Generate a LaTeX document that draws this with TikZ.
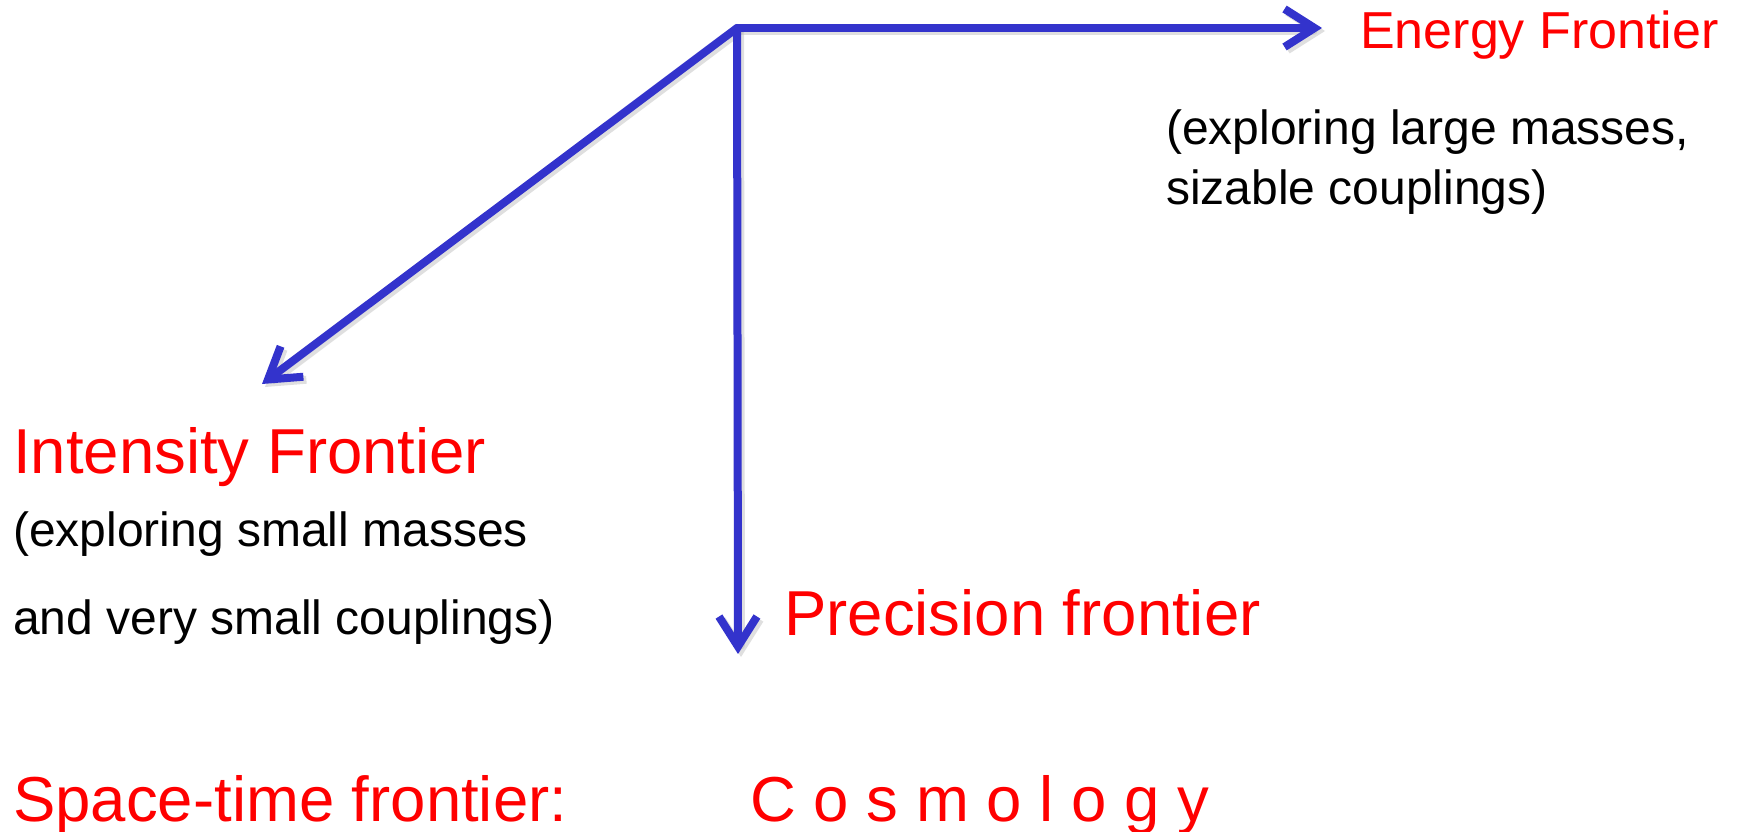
\documentclass[tikz,border=0pt]{standalone}
\usepackage{fontspec}
\setmainfont{Liberation Sans}
\usetikzlibrary{arrows.meta}
\definecolor{arrowblue}{RGB}{51,51,204}
\definecolor{labelred}{RGB}{255,0,0}
\tikzset{
  axis/.style={draw=arrowblue, line width=8pt, line cap=round, line join=round,
    -{Straight Barb[length=30pt,width=38pt,line width=8pt]}},
  axshadow/.style={draw=black!25, opacity=0.5, line width=8pt, line cap=round,
    -{Straight Barb[length=30pt,width=38pt,line width=8pt]}},
  biglabel/.style={text=labelred, anchor=base west, inner sep=0pt, font=\fontsize{63.5}{70}\selectfont},
  eflabel/.style={text=labelred, anchor=base west, inner sep=0pt, font=\fontsize{52}{60}\selectfont},
  note/.style={text=black, anchor=base west, inner sep=0pt, font=\fontsize{48}{56}\selectfont}
}
\begin{document}
\begin{tikzpicture}[x=1pt,y=-1pt]
\useasboundingbox (0,0) rectangle (1742,832);
% axes
\coordinate (O) at (737,28);
\coordinate (E) at (1322,28);
\coordinate (I) at (262,384);
\coordinate (P) at (738,654);
\coordinate (Os) at (740,31);
\coordinate (Es) at (1325,31);
\coordinate (Is) at (265,387);
\coordinate (Ps) at (741,657);
\draw[axshadow] (Os) -- (Es);
\draw[axshadow] (Os) -- (Is);
\draw[axshadow] (Os) -- (Ps);
\draw[axis] (O) -- (E);
\draw[axis] (O) -- (I);
\draw[axis] (O) -- (P);
% labels
\node[eflabel] (ef) at (1360,49) {Energy Frontier};
\node[note] (ef1) at (1166,144) {(exploring large masses,};
\node[note] (ef2) at (1166,204) {sizable couplings)};
\node[biglabel] (if) at (13,473) {Intensity Frontier};
\node[note] (if1) at (13,546) {(exploring small masses};
\node[note] (if2) at (13,634) {and very small couplings)};
\node[biglabel] (pf) at (784,635) {Precision frontier};
\node[biglabel] (sf) at (13,821) {Space-time frontier:};
\node[biglabel] (cf) at (750,821) {C o s m o l o g y};
\end{tikzpicture}
\end{document}
